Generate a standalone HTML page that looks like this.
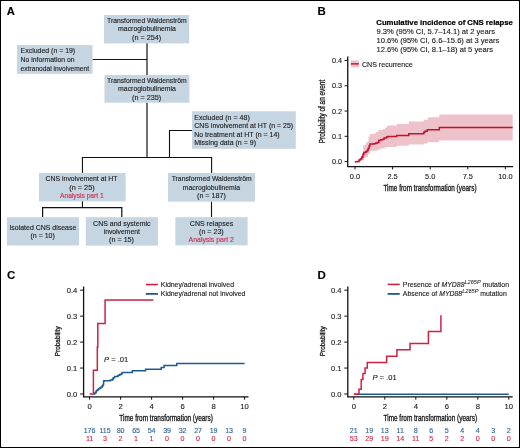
<!DOCTYPE html>
<html><head><meta charset="utf-8"><style>
html,body{margin:0;padding:0;background:#fff;}
body{width:520px;height:448px;overflow:hidden;}
svg{display:block;font-family:"Liberation Sans",sans-serif;will-change:transform;}
.cd{stroke:#1a1a1a;stroke-width:0.32px !important;}
text{stroke-width:0.12px;}
</style></head><body>
<svg width="520" height="448" viewBox="0 0 520 448">
<rect x="0" y="0" width="520" height="448" fill="#fff"/>
<text x="6.8" y="15.0" font-size="11.2" text-anchor="start" fill="#000" stroke="#000" font-weight="bold" >A</text>
<polyline points="147.0,43 147.0,75" fill="none" stroke="#111" stroke-width="1.2"/>
<polyline points="147.0,102.5 147.0,157.5" fill="none" stroke="#111" stroke-width="1.2"/>
<polyline points="92.5,59.5 147.0,59.5" fill="none" stroke="#111" stroke-width="1.1"/>
<polyline points="192,130.5 169.5,130.5 169.5,157.5" fill="none" stroke="#111" stroke-width="1.1"/>
<polyline points="82.45,173 82.45,157.5 211.6,157.5 211.6,173" fill="none" stroke="#111" stroke-width="1.1"/>
<polyline points="82.45,201 82.45,207.6" fill="none" stroke="#111" stroke-width="1.1"/>
<polyline points="42.6,217.2 42.6,207.6 121.8,207.6 121.8,217.2" fill="none" stroke="#111" stroke-width="1.2"/>
<polyline points="211.5,201.5 211.5,217.2" fill="none" stroke="#111" stroke-width="1.1"/>
<rect x="104" y="15" width="85.19999999999999" height="28.4" fill="#c5d5e2"/>
<text x="107.0" y="22.95" font-size="7.2" fill="#1a1a1a" stroke="#1a1a1a" textLength="79.7" lengthAdjust="spacingAndGlyphs">Transformed Waldenström</text>
<text x="118.1" y="31.45" font-size="7.2" fill="#1a1a1a" stroke="#1a1a1a" textLength="57.8" lengthAdjust="spacingAndGlyphs">macroglobulinemia</text>
<text x="132.1" y="39.95" font-size="7.2" fill="#1a1a1a" stroke="#1a1a1a" textLength="29.0" lengthAdjust="spacingAndGlyphs">(n = 254)</text>
<rect x="17" y="45.1" width="75.5" height="28.699999999999996" fill="#c5d5e2"/>
<text x="20.6" y="53.25" font-size="7.2" fill="#1a1a1a" stroke="#1a1a1a" textLength="54.6" lengthAdjust="spacingAndGlyphs">Excluded (n = 19)</text>
<text x="20.6" y="61.95" font-size="7.2" fill="#1a1a1a" stroke="#1a1a1a" textLength="53.9" lengthAdjust="spacingAndGlyphs">No information on</text>
<text x="20.6" y="70.65" font-size="7.2" fill="#1a1a1a" stroke="#1a1a1a" textLength="68.5" lengthAdjust="spacingAndGlyphs">extranodal involvement</text>
<rect x="104.5" y="75" width="84.9" height="27.700000000000003" fill="#c5d5e2"/>
<text x="107.0" y="82.85" font-size="7.2" fill="#1a1a1a" stroke="#1a1a1a" textLength="79.7" lengthAdjust="spacingAndGlyphs">Transformed Waldenström</text>
<text x="118.1" y="91.25" font-size="7.2" fill="#1a1a1a" stroke="#1a1a1a" textLength="57.8" lengthAdjust="spacingAndGlyphs">macroglobulinemia</text>
<text x="132.1" y="99.65" font-size="7.2" fill="#1a1a1a" stroke="#1a1a1a" textLength="29.0" lengthAdjust="spacingAndGlyphs">(n = 235)</text>
<rect x="192" y="111.3" width="103.80000000000001" height="37.500000000000014" fill="#c5d5e2"/>
<text x="194.2" y="119.85" font-size="7.2" fill="#1a1a1a" stroke="#1a1a1a" textLength="55.6" lengthAdjust="spacingAndGlyphs">Excluded (n = 48)</text>
<text x="194.2" y="128.38" font-size="7.2" fill="#1a1a1a" stroke="#1a1a1a" textLength="99.0" lengthAdjust="spacingAndGlyphs">CNS involvement at HT (n = 25)</text>
<text x="194.2" y="136.91" font-size="7.2" fill="#1a1a1a" stroke="#1a1a1a" textLength="85.5" lengthAdjust="spacingAndGlyphs">No treatment at HT (n = 14)</text>
<text x="194.2" y="145.44" font-size="7.2" fill="#1a1a1a" stroke="#1a1a1a" textLength="61.8" lengthAdjust="spacingAndGlyphs">Missing data (n = 9)</text>
<rect x="39" y="172.9" width="86.6" height="28.5" fill="#c5d5e2"/>
<text x="45.6" y="180.95" font-size="7.2" fill="#1a1a1a" stroke="#1a1a1a" textLength="71.9" lengthAdjust="spacingAndGlyphs">CNS involvement at HT</text>
<text x="69.3" y="189.55" font-size="7.2" fill="#1a1a1a" stroke="#1a1a1a" textLength="25.4" lengthAdjust="spacingAndGlyphs">(n = 25)</text>
<text x="60.0" y="198.15" font-size="7.2" fill="#cf2a50" stroke="#cf2a50" textLength="43.7" lengthAdjust="spacingAndGlyphs">Analysis part 1</text>
<rect x="168" y="172.9" width="87" height="28.69999999999999" fill="#c5d5e2"/>
<text x="171.7" y="181.05" font-size="7.2" fill="#1a1a1a" stroke="#1a1a1a" textLength="80.1" lengthAdjust="spacingAndGlyphs">Transformed Waldenström</text>
<text x="182.8" y="189.5" font-size="7.2" fill="#1a1a1a" stroke="#1a1a1a" textLength="57.2" lengthAdjust="spacingAndGlyphs">macroglobulinemia</text>
<text x="197.0" y="197.95" font-size="7.2" fill="#1a1a1a" stroke="#1a1a1a" textLength="28.8" lengthAdjust="spacingAndGlyphs">(n = 187)</text>
<rect x="6.9" y="217.2" width="72.1" height="28.30000000000001" fill="#c5d5e2"/>
<text x="9.4" y="229.85" font-size="7.2" fill="#1a1a1a" stroke="#1a1a1a" textLength="66.9" lengthAdjust="spacingAndGlyphs">Isolated CNS disease</text>
<text x="30.5" y="238.25" font-size="7.2" fill="#1a1a1a" stroke="#1a1a1a" textLength="24.3" lengthAdjust="spacingAndGlyphs">(n = 10)</text>
<rect x="85.8" y="217.2" width="72.10000000000001" height="28.400000000000006" fill="#c5d5e2"/>
<text x="93.1" y="225.85" font-size="7.2" fill="#1a1a1a" stroke="#1a1a1a" textLength="57.4" lengthAdjust="spacingAndGlyphs">CNS and systemic</text>
<text x="103.7" y="234.05" font-size="7.2" fill="#1a1a1a" stroke="#1a1a1a" textLength="36.1" lengthAdjust="spacingAndGlyphs">involvement</text>
<text x="109.1" y="242.25" font-size="7.2" fill="#1a1a1a" stroke="#1a1a1a" textLength="24.9" lengthAdjust="spacingAndGlyphs">(n = 15)</text>
<rect x="175.4" y="217.2" width="72.19999999999999" height="28.100000000000023" fill="#c5d5e2"/>
<text x="189.8" y="225.55" font-size="7.2" fill="#1a1a1a" stroke="#1a1a1a" textLength="43.4" lengthAdjust="spacingAndGlyphs">CNS relapses</text>
<text x="199.1" y="233.95" font-size="7.2" fill="#1a1a1a" stroke="#1a1a1a" textLength="24.6" lengthAdjust="spacingAndGlyphs">(n = 23)</text>
<text x="188.6" y="242.35" font-size="7.2" fill="#cf2a50" stroke="#cf2a50" textLength="45.3" lengthAdjust="spacingAndGlyphs">Analysis part 2</text>
<text x="317.6" y="14.8" font-size="11.5" text-anchor="start" fill="#000" stroke="#000" font-weight="bold" >B</text>
<text x="376.3" y="24.6" font-size="8.0" font-weight="bold" fill="#000" stroke="#000" style="stroke-width:0.22px" textLength="136.6" lengthAdjust="spacingAndGlyphs">Cumulative incidence of CNS relapse</text>
<text x="376.5" y="33.5" font-size="7.6" text-anchor="start" fill="#1a1a1a" stroke="#1a1a1a" font-weight="normal" >9.3% (95% CI, 5.7–14.1) at 2 years</text>
<text x="376.5" y="42.8" font-size="7.6" text-anchor="start" fill="#1a1a1a" stroke="#1a1a1a" font-weight="normal" >10.6% (95% CI, 6.6–15.6) at 3 years</text>
<text x="376.5" y="52.0" font-size="7.6" text-anchor="start" fill="#1a1a1a" stroke="#1a1a1a" font-weight="normal" >12.6% (95% CI, 8.1–18) at 5 years</text>
<polygon points="355,161.5 360.6,161.5 360.6,156 362.2,156 362.2,152.8 363.2,152.8 363.2,145.4 364.6,145.4 364.6,144.8 365.9,144.8 365.9,142.7 367.5,142.7 367.5,141 368.5,141 368.5,136.6 369.9,136.6 369.9,133.9 373.4,133.9 374.8,133.9 374.8,133 376.1,133 376.1,132.1 377.9,132.1 377.9,130.8 378.8,130.8 378.8,129.9 382.8,129.9 382.8,129 385,129 385,127.7 386.8,127.7 386.8,125.9 388,125.9 388,125.6 396.7,125.6 396.7,124.1 408.8,124.1 408.8,121.5 423.8,121.5 423.8,119.8 427.8,119.8 427.8,117.2 439.3,117.2 439.3,114.6 512.7,114.6 512.7,140.6 438.8,140.6 438.8,142.3 427.2,142.3 427.2,143.5 423.8,143.5 423.8,144.6 408.8,144.6 408.8,145.8 396.7,145.8 396.7,146.9 388,146.9 388,147.3 385,147.3 385,148.2 381.5,148.2 381.5,149.1 378.8,149.1 378.8,150.4 376.1,150.4 376.1,150.7 374,150.7 374,151.2 369.7,151.2 369.7,153.9 368,153.9 368,157.1 365.9,157.1 365.9,157.7 364.3,157.7 364.3,160.3 361.6,160.3 361.6,160.7 360,160.7 360,162.3 355,162.3" fill="#eec2cb"/>
<polyline points="354.8,161.7 357.4,161.7 357.4,161.4 359,161.4 359,160.1 360.3,160.1 360.3,159 361.6,159 361.6,158.2 361.9,158.2 361.9,157.1 363,157.1 363,154.5 363.8,154.5 363.8,152.6 365.7,152.6 365.7,151.8 367,151.8 367,150.4 368.1,150.4 368.1,148.6 369.1,148.6 369.1,145.9 369.9,145.9 369.9,143.9 373.9,143.9 373.9,143.75 375.7,143.75 375.7,142.9 377.4,142.9 377.4,142.4 378.8,142.4 378.8,140.6 380.6,140.6 380.6,139.7 382.8,139.7 382.8,139.3 384.1,139.3 384.1,137.9 386.4,137.9 386.4,137.05 387.7,137.05 387.7,136.5 396.7,136.5 396.7,135.6 408.8,135.6 408.8,133.65 423.8,133.65 423.8,132.15 424.9,132.15 424.9,131.3 427.2,131.3 427.2,129.85 439.3,129.85 439.3,127.5 512.7,127.5" fill="none" stroke="#c8102e" stroke-width="1.5"/>
<polyline points="347.75,56.5 347.75,166.6 513.1,166.6" fill="none" stroke="#111" stroke-width="1.3"/>
<polyline points="344.6,161.6 347.75,161.6" fill="none" stroke="#111" stroke-width="1.0"/>
<text x="342.2" y="164.1" font-size="7.3" text-anchor="end" fill="#1a1a1a" stroke="#1a1a1a" font-weight="normal" >0.0</text>
<polyline points="344.6,136.32 347.75,136.32" fill="none" stroke="#111" stroke-width="1.0"/>
<text x="342.2" y="138.82" font-size="7.3" text-anchor="end" fill="#1a1a1a" stroke="#1a1a1a" font-weight="normal" >0.1</text>
<polyline points="344.6,111.04 347.75,111.04" fill="none" stroke="#111" stroke-width="1.0"/>
<text x="342.2" y="113.54" font-size="7.3" text-anchor="end" fill="#1a1a1a" stroke="#1a1a1a" font-weight="normal" >0.2</text>
<polyline points="344.6,85.76 347.75,85.76" fill="none" stroke="#111" stroke-width="1.0"/>
<text x="342.2" y="88.26" font-size="7.3" text-anchor="end" fill="#1a1a1a" stroke="#1a1a1a" font-weight="normal" >0.3</text>
<polyline points="344.6,60.48 347.75,60.48" fill="none" stroke="#111" stroke-width="1.0"/>
<text x="342.2" y="62.98" font-size="7.3" text-anchor="end" fill="#1a1a1a" stroke="#1a1a1a" font-weight="normal" >0.4</text>
<polyline points="355.0,166.6 355.0,169.4" fill="none" stroke="#111" stroke-width="1.0"/>
<text x="355.0" y="178.7" font-size="7.4" text-anchor="middle" fill="#1a1a1a" stroke="#1a1a1a" font-weight="normal" >0.0</text>
<polyline points="392.6,166.6 392.6,169.4" fill="none" stroke="#111" stroke-width="1.0"/>
<text x="392.6" y="178.7" font-size="7.4" text-anchor="middle" fill="#1a1a1a" stroke="#1a1a1a" font-weight="normal" >2.5</text>
<polyline points="430.2,166.6 430.2,169.4" fill="none" stroke="#111" stroke-width="1.0"/>
<text x="430.2" y="178.7" font-size="7.4" text-anchor="middle" fill="#1a1a1a" stroke="#1a1a1a" font-weight="normal" >5.0</text>
<polyline points="467.8,166.6 467.8,169.4" fill="none" stroke="#111" stroke-width="1.0"/>
<text x="467.8" y="178.7" font-size="7.4" text-anchor="middle" fill="#1a1a1a" stroke="#1a1a1a" font-weight="normal" >7.5</text>
<polyline points="505.4,166.6 505.4,169.4" fill="none" stroke="#111" stroke-width="1.0"/>
<text x="505.4" y="178.7" font-size="7.4" text-anchor="middle" fill="#1a1a1a" stroke="#1a1a1a" font-weight="normal" >10.0</text>
<text x="383.4" y="190.8" font-size="8.2" textLength="93.2" lengthAdjust="spacingAndGlyphs" fill="#1a1a1a" stroke="#1a1a1a" class="cd">Time from transformation (years)</text>
<text transform="translate(325.1,143.2) rotate(-90)" x="0" y="0" font-size="8.5" textLength="63.4" lengthAdjust="spacingAndGlyphs" fill="#1a1a1a" stroke="#1a1a1a" class="cd">Probability of an event</text>
<rect x="350.8" y="60.4" width="8.099999999999966" height="6.899999999999999" fill="#eec2cb"/>
<polyline points="350.8,63.85 358.9,63.85" fill="none" stroke="#cc2244" stroke-width="1.6"/>
<text x="361.9" y="66.6" font-size="7.1" text-anchor="start" fill="#1a1a1a" stroke="#1a1a1a" font-weight="normal" >CNS recurrence</text>
<text x="7" y="278.8" font-size="11.5" text-anchor="start" fill="#000" stroke="#000" font-weight="bold" >C</text>
<polyline points="93.8,393.9 94.7,393.9 94.7,393 95.9,393 95.9,391.8 96.4,391.8 96.4,390.5 97.6,390.5 97.6,389.7 98.5,389.7 98.5,388.8 99.7,388.8 99.7,388 101,388 101,387.1 102.3,387.1 102.3,385.8 103.1,385.8 103.1,384.6 103.6,384.6 103.6,381.2 104,381.2 104,380.8 109.9,380.8 110.3,380.8 110.3,379.9 112.5,379.9 112.5,379.1 113.3,379.1 113.3,377.8 114.6,377.8 114.6,376.5 117.5,376.5 117.5,376.1 118.4,376.1 118.4,375.3 119.7,375.3 119.7,374.4 121.4,374.4 121.4,373.6 122.2,373.6 122.2,372.6 132.3,372.6 132.3,370.8 145.6,370.8 145.6,369.3 161.2,369.3 161.2,367.5 164.1,367.5 164.1,365.6 176.8,365.6 176.8,363.4 244.6,363.4" fill="none" stroke="#1d5a92" stroke-width="1.5"/>
<polyline points="89.6,393.9 93.4,393.9 93.4,370.3 97.3,370.3 97.3,347 97.8,347 97.8,323.6 105.1,323.6 105.1,299.9 153.4,299.9" fill="none" stroke="#cc2244" stroke-width="1.5"/>
<polyline points="83.6,286.5 83.6,396.8 248.5,396.8" fill="none" stroke="#111" stroke-width="1.3"/>
<polyline points="80.1,394.0 83.6,394.0" fill="none" stroke="#111" stroke-width="1.0"/>
<text x="77.3" y="396.7" font-size="7.6" text-anchor="end" fill="#1a1a1a" stroke="#1a1a1a" font-weight="normal" >0.0</text>
<polyline points="80.1,368.05 83.6,368.05" fill="none" stroke="#111" stroke-width="1.0"/>
<text x="77.3" y="370.75" font-size="7.6" text-anchor="end" fill="#1a1a1a" stroke="#1a1a1a" font-weight="normal" >0.1</text>
<polyline points="80.1,342.1 83.6,342.1" fill="none" stroke="#111" stroke-width="1.0"/>
<text x="77.3" y="344.8" font-size="7.6" text-anchor="end" fill="#1a1a1a" stroke="#1a1a1a" font-weight="normal" >0.2</text>
<polyline points="80.1,316.15 83.6,316.15" fill="none" stroke="#111" stroke-width="1.0"/>
<text x="77.3" y="318.85" font-size="7.6" text-anchor="end" fill="#1a1a1a" stroke="#1a1a1a" font-weight="normal" >0.3</text>
<polyline points="80.1,290.2 83.6,290.2" fill="none" stroke="#111" stroke-width="1.0"/>
<text x="77.3" y="292.9" font-size="7.6" text-anchor="end" fill="#1a1a1a" stroke="#1a1a1a" font-weight="normal" >0.4</text>
<polyline points="89.6,396.8 89.6,399.7" fill="none" stroke="#111" stroke-width="1.0"/>
<text x="89.6" y="408.5" font-size="7.7" text-anchor="middle" fill="#1a1a1a" stroke="#1a1a1a" font-weight="normal" >0</text>
<polyline points="120.6,396.8 120.6,399.7" fill="none" stroke="#111" stroke-width="1.0"/>
<text x="120.6" y="408.5" font-size="7.7" text-anchor="middle" fill="#1a1a1a" stroke="#1a1a1a" font-weight="normal" >2</text>
<polyline points="151.6,396.8 151.6,399.7" fill="none" stroke="#111" stroke-width="1.0"/>
<text x="151.6" y="408.5" font-size="7.7" text-anchor="middle" fill="#1a1a1a" stroke="#1a1a1a" font-weight="normal" >4</text>
<polyline points="182.6,396.8 182.6,399.7" fill="none" stroke="#111" stroke-width="1.0"/>
<text x="182.6" y="408.5" font-size="7.7" text-anchor="middle" fill="#1a1a1a" stroke="#1a1a1a" font-weight="normal" >6</text>
<polyline points="213.6,396.8 213.6,399.7" fill="none" stroke="#111" stroke-width="1.0"/>
<text x="213.6" y="408.5" font-size="7.7" text-anchor="middle" fill="#1a1a1a" stroke="#1a1a1a" font-weight="normal" >8</text>
<polyline points="244.6,396.8 244.6,399.7" fill="none" stroke="#111" stroke-width="1.0"/>
<text x="244.6" y="408.5" font-size="7.7" text-anchor="middle" fill="#1a1a1a" stroke="#1a1a1a" font-weight="normal" >10</text>
<text x="119.3" y="420.9" font-size="8.2" textLength="93.6" lengthAdjust="spacingAndGlyphs" fill="#1a1a1a" stroke="#1a1a1a" class="cd">Time from transformation (years)</text>
<text transform="translate(60.4,356.2) rotate(-90)" x="0" y="0" font-size="8" textLength="29.9" lengthAdjust="spacingAndGlyphs" fill="#1a1a1a" stroke="#1a1a1a" class="cd">Probability</text>
<text x="89.6" y="432.8" font-size="7.1" text-anchor="middle" fill="#2d659a" stroke="#2d659a" font-weight="normal" >176</text>
<text x="105.1" y="432.8" font-size="7.1" text-anchor="middle" fill="#2d659a" stroke="#2d659a" font-weight="normal" >115</text>
<text x="120.6" y="432.8" font-size="7.1" text-anchor="middle" fill="#2d659a" stroke="#2d659a" font-weight="normal" >80</text>
<text x="136.1" y="432.8" font-size="7.1" text-anchor="middle" fill="#2d659a" stroke="#2d659a" font-weight="normal" >65</text>
<text x="151.6" y="432.8" font-size="7.1" text-anchor="middle" fill="#2d659a" stroke="#2d659a" font-weight="normal" >54</text>
<text x="167.1" y="432.8" font-size="7.1" text-anchor="middle" fill="#2d659a" stroke="#2d659a" font-weight="normal" >39</text>
<text x="182.6" y="432.8" font-size="7.1" text-anchor="middle" fill="#2d659a" stroke="#2d659a" font-weight="normal" >32</text>
<text x="198.1" y="432.8" font-size="7.1" text-anchor="middle" fill="#2d659a" stroke="#2d659a" font-weight="normal" >27</text>
<text x="213.6" y="432.8" font-size="7.1" text-anchor="middle" fill="#2d659a" stroke="#2d659a" font-weight="normal" >19</text>
<text x="229.1" y="432.8" font-size="7.1" text-anchor="middle" fill="#2d659a" stroke="#2d659a" font-weight="normal" >13</text>
<text x="244.6" y="432.8" font-size="7.1" text-anchor="middle" fill="#2d659a" stroke="#2d659a" font-weight="normal" >9</text>
<text x="89.6" y="441.4" font-size="7.1" text-anchor="middle" fill="#cf2a50" stroke="#cf2a50" font-weight="normal" >11</text>
<text x="105.1" y="441.4" font-size="7.1" text-anchor="middle" fill="#cf2a50" stroke="#cf2a50" font-weight="normal" >3</text>
<text x="120.6" y="441.4" font-size="7.1" text-anchor="middle" fill="#cf2a50" stroke="#cf2a50" font-weight="normal" >2</text>
<text x="136.1" y="441.4" font-size="7.1" text-anchor="middle" fill="#cf2a50" stroke="#cf2a50" font-weight="normal" >1</text>
<text x="151.6" y="441.4" font-size="7.1" text-anchor="middle" fill="#cf2a50" stroke="#cf2a50" font-weight="normal" >1</text>
<text x="167.1" y="441.4" font-size="7.1" text-anchor="middle" fill="#cf2a50" stroke="#cf2a50" font-weight="normal" >0</text>
<text x="182.6" y="441.4" font-size="7.1" text-anchor="middle" fill="#cf2a50" stroke="#cf2a50" font-weight="normal" >0</text>
<text x="198.1" y="441.4" font-size="7.1" text-anchor="middle" fill="#cf2a50" stroke="#cf2a50" font-weight="normal" >0</text>
<text x="213.6" y="441.4" font-size="7.1" text-anchor="middle" fill="#cf2a50" stroke="#cf2a50" font-weight="normal" >0</text>
<text x="229.1" y="441.4" font-size="7.1" text-anchor="middle" fill="#cf2a50" stroke="#cf2a50" font-weight="normal" >0</text>
<text x="244.6" y="441.4" font-size="7.1" text-anchor="middle" fill="#cf2a50" stroke="#cf2a50" font-weight="normal" >0</text>
<text x="104" y="362.3" font-size="7.6" fill="#1a1a1a" stroke="#1a1a1a"><tspan font-style="italic">P</tspan> = .01</text>
<polyline points="145.8,284.55 157.9,284.55" stroke="#cc2244" stroke-width="1.6"/><polyline points="145.8,293.9 157.9,293.9" stroke="#1d5a92" stroke-width="1.8"/><text x="160.8" y="286.9" font-size="6.9" fill="#1a1a1a" stroke="#1a1a1a">Kidney/adrenal involved</text><text x="160.8" y="295.9" font-size="6.9" fill="#1a1a1a" stroke="#1a1a1a">Kidney/adrenal not involved</text>
<text x="317.6" y="278.8" font-size="11.5" text-anchor="start" fill="#000" stroke="#000" font-weight="bold" >D</text>
<polyline points="353.9,394.3 508.8,394.3" fill="none" stroke="#1d5a92" stroke-width="1.5"/>
<polyline points="353.9,394.3 359,394.3 359,389.3 361.2,389.3 361.2,379.6 362.9,379.6 362.9,373.4 365.1,373.4 365.1,367.9 367.3,367.9 367.3,362.5 386.6,362.5 386.6,356.3 396.9,356.3 396.9,349.7 410,349.7 410,343.4 428.4,343.4 428.4,331.6 440.9,331.6 440.9,315.2" fill="none" stroke="#cc2244" stroke-width="1.5"/>
<polyline points="347.8,286.5 347.8,396.8 512.7,396.8" fill="none" stroke="#111" stroke-width="1.3"/>
<polyline points="344.3,394.0 347.8,394.0" fill="none" stroke="#111" stroke-width="1.0"/>
<text x="341.5" y="396.7" font-size="7.6" text-anchor="end" fill="#1a1a1a" stroke="#1a1a1a" font-weight="normal" >0.0</text>
<polyline points="344.3,368.05 347.8,368.05" fill="none" stroke="#111" stroke-width="1.0"/>
<text x="341.5" y="370.75" font-size="7.6" text-anchor="end" fill="#1a1a1a" stroke="#1a1a1a" font-weight="normal" >0.1</text>
<polyline points="344.3,342.1 347.8,342.1" fill="none" stroke="#111" stroke-width="1.0"/>
<text x="341.5" y="344.8" font-size="7.6" text-anchor="end" fill="#1a1a1a" stroke="#1a1a1a" font-weight="normal" >0.2</text>
<polyline points="344.3,316.15 347.8,316.15" fill="none" stroke="#111" stroke-width="1.0"/>
<text x="341.5" y="318.85" font-size="7.6" text-anchor="end" fill="#1a1a1a" stroke="#1a1a1a" font-weight="normal" >0.3</text>
<polyline points="344.3,290.2 347.8,290.2" fill="none" stroke="#111" stroke-width="1.0"/>
<text x="341.5" y="292.9" font-size="7.6" text-anchor="end" fill="#1a1a1a" stroke="#1a1a1a" font-weight="normal" >0.4</text>
<polyline points="353.8,396.8 353.8,399.7" fill="none" stroke="#111" stroke-width="1.0"/>
<text x="353.8" y="408.5" font-size="7.7" text-anchor="middle" fill="#1a1a1a" stroke="#1a1a1a" font-weight="normal" >0</text>
<polyline points="384.8,396.8 384.8,399.7" fill="none" stroke="#111" stroke-width="1.0"/>
<text x="384.8" y="408.5" font-size="7.7" text-anchor="middle" fill="#1a1a1a" stroke="#1a1a1a" font-weight="normal" >2</text>
<polyline points="415.8,396.8 415.8,399.7" fill="none" stroke="#111" stroke-width="1.0"/>
<text x="415.8" y="408.5" font-size="7.7" text-anchor="middle" fill="#1a1a1a" stroke="#1a1a1a" font-weight="normal" >4</text>
<polyline points="446.8,396.8 446.8,399.7" fill="none" stroke="#111" stroke-width="1.0"/>
<text x="446.8" y="408.5" font-size="7.7" text-anchor="middle" fill="#1a1a1a" stroke="#1a1a1a" font-weight="normal" >6</text>
<polyline points="477.8,396.8 477.8,399.7" fill="none" stroke="#111" stroke-width="1.0"/>
<text x="477.8" y="408.5" font-size="7.7" text-anchor="middle" fill="#1a1a1a" stroke="#1a1a1a" font-weight="normal" >8</text>
<polyline points="508.8,396.8 508.8,399.7" fill="none" stroke="#111" stroke-width="1.0"/>
<text x="508.8" y="408.5" font-size="7.7" text-anchor="middle" fill="#1a1a1a" stroke="#1a1a1a" font-weight="normal" >10</text>
<text x="383.5" y="420.9" font-size="8.2" textLength="93.6" lengthAdjust="spacingAndGlyphs" fill="#1a1a1a" stroke="#1a1a1a" class="cd">Time from transformation (years)</text>
<text transform="translate(324.6,356.2) rotate(-90)" x="0" y="0" font-size="8" textLength="29.9" lengthAdjust="spacingAndGlyphs" fill="#1a1a1a" stroke="#1a1a1a" class="cd">Probability</text>
<text x="353.8" y="432.8" font-size="7.1" text-anchor="middle" fill="#2d659a" stroke="#2d659a" font-weight="normal" >21</text>
<text x="369.3" y="432.8" font-size="7.1" text-anchor="middle" fill="#2d659a" stroke="#2d659a" font-weight="normal" >19</text>
<text x="384.8" y="432.8" font-size="7.1" text-anchor="middle" fill="#2d659a" stroke="#2d659a" font-weight="normal" >13</text>
<text x="400.3" y="432.8" font-size="7.1" text-anchor="middle" fill="#2d659a" stroke="#2d659a" font-weight="normal" >11</text>
<text x="415.8" y="432.8" font-size="7.1" text-anchor="middle" fill="#2d659a" stroke="#2d659a" font-weight="normal" >8</text>
<text x="431.3" y="432.8" font-size="7.1" text-anchor="middle" fill="#2d659a" stroke="#2d659a" font-weight="normal" >6</text>
<text x="446.8" y="432.8" font-size="7.1" text-anchor="middle" fill="#2d659a" stroke="#2d659a" font-weight="normal" >5</text>
<text x="462.3" y="432.8" font-size="7.1" text-anchor="middle" fill="#2d659a" stroke="#2d659a" font-weight="normal" >4</text>
<text x="477.8" y="432.8" font-size="7.1" text-anchor="middle" fill="#2d659a" stroke="#2d659a" font-weight="normal" >4</text>
<text x="493.3" y="432.8" font-size="7.1" text-anchor="middle" fill="#2d659a" stroke="#2d659a" font-weight="normal" >3</text>
<text x="508.8" y="432.8" font-size="7.1" text-anchor="middle" fill="#2d659a" stroke="#2d659a" font-weight="normal" >2</text>
<text x="353.8" y="441.4" font-size="7.1" text-anchor="middle" fill="#cf2a50" stroke="#cf2a50" font-weight="normal" >53</text>
<text x="369.3" y="441.4" font-size="7.1" text-anchor="middle" fill="#cf2a50" stroke="#cf2a50" font-weight="normal" >29</text>
<text x="384.8" y="441.4" font-size="7.1" text-anchor="middle" fill="#cf2a50" stroke="#cf2a50" font-weight="normal" >19</text>
<text x="400.3" y="441.4" font-size="7.1" text-anchor="middle" fill="#cf2a50" stroke="#cf2a50" font-weight="normal" >14</text>
<text x="415.8" y="441.4" font-size="7.1" text-anchor="middle" fill="#cf2a50" stroke="#cf2a50" font-weight="normal" >11</text>
<text x="431.3" y="441.4" font-size="7.1" text-anchor="middle" fill="#cf2a50" stroke="#cf2a50" font-weight="normal" >5</text>
<text x="446.8" y="441.4" font-size="7.1" text-anchor="middle" fill="#cf2a50" stroke="#cf2a50" font-weight="normal" >2</text>
<text x="462.3" y="441.4" font-size="7.1" text-anchor="middle" fill="#cf2a50" stroke="#cf2a50" font-weight="normal" >2</text>
<text x="477.8" y="441.4" font-size="7.1" text-anchor="middle" fill="#cf2a50" stroke="#cf2a50" font-weight="normal" >0</text>
<text x="493.3" y="441.4" font-size="7.1" text-anchor="middle" fill="#cf2a50" stroke="#cf2a50" font-weight="normal" >0</text>
<text x="508.8" y="441.4" font-size="7.1" text-anchor="middle" fill="#cf2a50" stroke="#cf2a50" font-weight="normal" >0</text>
<text x="372.4" y="380.2" font-size="7.6" fill="#1a1a1a" stroke="#1a1a1a"><tspan font-style="italic">P</tspan> = .01</text>
<polyline points="387.6,284.4 399.7,284.4" stroke="#cc2244" stroke-width="1.6"/><polyline points="387.6,293.9 399.7,293.9" stroke="#1d5a92" stroke-width="1.8"/><text x="402.8" y="286.8" font-size="6.9" fill="#1a1a1a" stroke="#1a1a1a">Presence of <tspan font-style="italic">MYD88</tspan><tspan font-style="italic" font-size="5.6" dy="-2.9" stroke-width="0.05">L265P</tspan><tspan dy="2.9"> mutation</tspan></text><text x="402.8" y="296.3" font-size="6.9" fill="#1a1a1a" stroke="#1a1a1a">Absence of <tspan font-style="italic">MYD88</tspan><tspan font-style="italic" font-size="5.6" dy="-2.9" stroke-width="0.05">L265P</tspan><tspan dy="2.9"> mutation</tspan></text>
<rect x="0.5" y="0.5" width="519" height="447" fill="none" stroke="#000" stroke-width="1"/>
</svg>
</body></html>
